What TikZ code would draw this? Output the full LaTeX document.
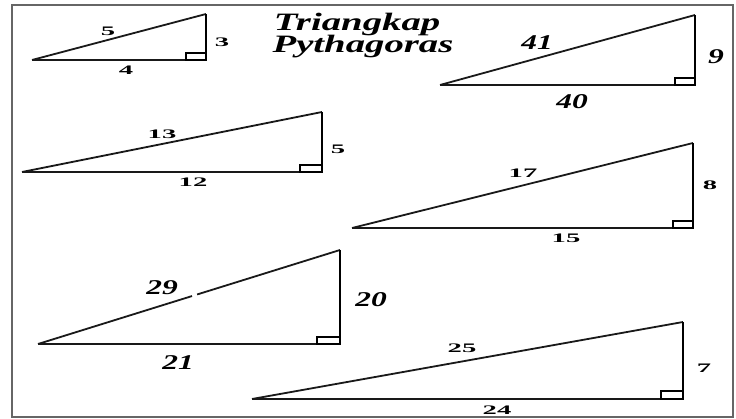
\documentclass[tikz,border=0pt]{standalone}
\usepackage{fontspec}
\usepackage{graphicx}
\setmainfont{Liberation Serif}
\usetikzlibrary{calc}
\newcommand\smallnum[1]{\scalebox{2.2}[1]{\fontsize{13}{13}\selectfont\bfseries #1}}
\newcommand\bignum[1]{\scalebox{1.5}[1]{\fontsize{21}{21}\selectfont\bfseries\itshape #1}}
\newcommand\titletext[1]{\scalebox{1.55}[1]{\fontsize{25}{25}\selectfont\bfseries\itshape #1}}
\tikzset{
  hyp/.style={line width=1.8pt, black!90},
  base/.style={line width=1.9pt, black!90},
  legv/.style={line width=2.4pt, black},
  ramark/.style={line width=1.2pt, black},
  frame/.style={line width=2.2pt, black!60},
  lbl/.style={inner sep=0pt, anchor=center}
}
\begin{document}
\begin{tikzpicture}[x=1pt,y=-1pt]
\useasboundingbox (0,0) rectangle (736,419);
\fill[white] (0,0) rectangle (736,419);
\draw[frame] (12,5) rectangle (733,417);

% title
\node[lbl] (t1) at (357,24) {\titletext{Triangkap}};
\node[lbl] (t2) at (363,47) {\titletext{Pythagoras}};

% triangle 1: 3-4-5
\coordinate (a1) at (32,60); \coordinate (b1) at (206,60); \coordinate (c1) at (206,14);
\draw[hyp] (a1) -- (c1);
\draw[base] (a1) -- (b1);
\draw[legv] (b1) -- (c1);
\draw[ramark] ($(b1)+(-20,0)$) rectangle ($(b1)+(0,-7)$);
\node[lbl] (l1h) at (108,31) {\smallnum{5}};
\node[lbl] (l1v) at (222,42) {\smallnum{3}};
\node[lbl] (l1b) at (126,70) {\smallnum{4}};

% triangle 2: 9-40-41
\coordinate (a2) at (440,85); \coordinate (b2) at (695,85); \coordinate (c2) at (695,15);
\draw[hyp] (a2) -- (c2);
\draw[base] (a2) -- (b2);
\draw[legv] (b2) -- (c2);
\draw[ramark] ($(b2)+(-20,0)$) rectangle ($(b2)+(0,-7)$);
\node[lbl] (l2h) at (537,43) {\bignum{41}};
\node[lbl] (l2v) at (716,57) {\bignum{9}};
\node[lbl] (l2b) at (572,102) {\bignum{40}};

% triangle 3: 5-12-13
\coordinate (a3) at (22,172); \coordinate (b3) at (322,172); \coordinate (c3) at (322,112);
\draw[hyp] (a3) -- (c3);
\draw[base] (a3) -- (b3);
\draw[legv] (b3) -- (c3);
\draw[ramark] ($(b3)+(-22,0)$) rectangle ($(b3)+(0,-7)$);
\node[lbl] (l3h) at (162,134) {\smallnum{13}};
\node[lbl] (l3v) at (338,149) {\smallnum{5}};
\node[lbl] (l3b) at (193,182) {\smallnum{12}};

% triangle 4: 8-15-17
\coordinate (a4) at (352,228); \coordinate (b4) at (693,228); \coordinate (c4) at (693,143);
\draw[hyp] (a4) -- (c4);
\draw[base] (a4) -- (b4);
\draw[legv] (b4) -- (c4);
\draw[ramark] ($(b4)+(-20,0)$) rectangle ($(b4)+(0,-7)$);
\node[lbl] (l4h) at (523,173) {\smallnum{17}};
\node[lbl] (l4v) at (710,185) {\smallnum{8}};
\node[lbl] (l4b) at (566,238) {\smallnum{15}};

% triangle 5: 20-21-29
\coordinate (a5) at (38,344); \coordinate (b5) at (340,344); \coordinate (c5) at (340,250);
\draw[hyp] (a5) -- ($(a5)!0.51!(c5)$);
\draw[hyp] ($(a5)!0.527!(c5)$) -- (c5);
\draw[base] (a5) -- (b5);
\draw[legv] (b5) -- (c5);
\draw[ramark] ($(b5)+(-23,0)$) rectangle ($(b5)+(0,-7)$);
\node[lbl] (l5h) at (162,288) {\bignum{29}};
\node[lbl] (l5v) at (371,300) {\bignum{20}};
\node[lbl] (l5b) at (178,363) {\bignum{21}};

% triangle 6: 7-24-25
\coordinate (a6) at (252,399); \coordinate (b6) at (683,399); \coordinate (c6) at (683,322);
\draw[hyp] (a6) -- (c6);
\draw[base] (a6) -- (b6);
\draw[legv] (b6) -- (c6);
\draw[ramark] ($(b6)+(-22,0)$) rectangle ($(b6)+(0,-8)$);
\node[lbl] (l6h) at (462,348) {\smallnum{25}};
\node[lbl] (l6v) at (704,368) {\smallnum{7}};
\node[lbl] (l6b) at (497,410) {\smallnum{24}};
\end{tikzpicture}
\end{document}
